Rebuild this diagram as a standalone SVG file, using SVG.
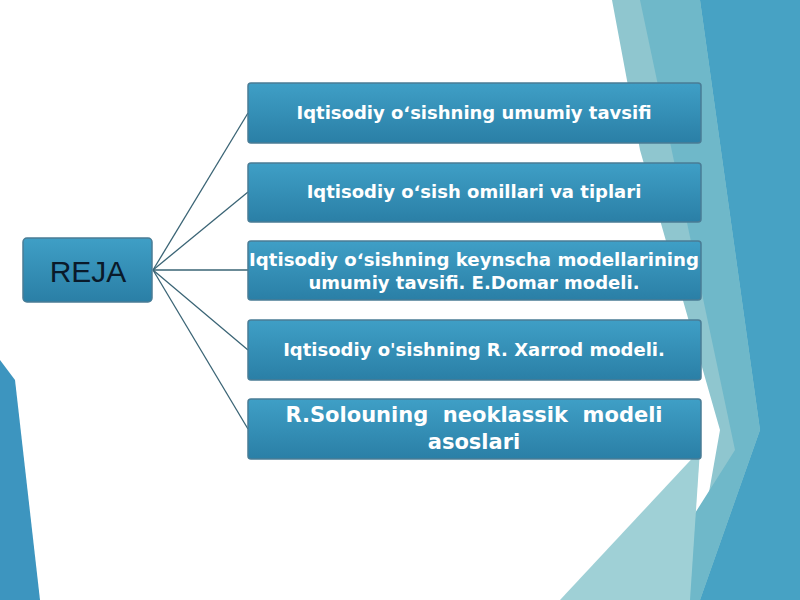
<svg xmlns="http://www.w3.org/2000/svg" width="800" height="600" viewBox="0 0 800 600">
<defs>
<linearGradient id="g" x1="0" y1="0" x2="0" y2="1"><stop offset="0" stop-color="#3f9fc6"/><stop offset="1" stop-color="#2a7fa6"/></linearGradient>
<style>.b{fill:url(#g);stroke:#4a7c95;stroke-width:1.5}.t{font-family:"DejaVu Sans",sans-serif;font-weight:bold;fill:#fff;font-size:18px;text-anchor:middle}.c{stroke:#3a6475;stroke-width:1.3;fill:none}</style>
</defs>
<rect width="800" height="600" fill="#fff"/>
<polygon points="612,0 800,0 800,600 690,600 720,430 640,150" fill="#8fc6cf"/>
<polygon points="700,0 800,0 800,600 700,600 760,430" fill="#47a2c4"/>
<polygon points="640,0 700,0 760,430 700,600 640,600 735,450" fill="#6fb8c9"/>
<polygon points="560,600 700,450 690,600" fill="#9fd0d6"/>
<polygon points="0,360 15,380 40,600 0,600" fill="#3d95bf"/>
<g id="connectors">
<line class="c" x1="153" y1="270" x2="248" y2="113"/>
<line class="c" x1="153" y1="270" x2="248" y2="192"/>
<line class="c" x1="153" y1="270" x2="248" y2="270"/>
<line class="c" x1="153" y1="270" x2="248" y2="350"/>
<line class="c" x1="153" y1="270" x2="248" y2="429"/>
</g>
<g id="reja"><rect class="b" x="23" y="238" width="129" height="64" rx="4"/><text x="88" y="282" font-family="Liberation Sans, sans-serif" font-size="30" fill="#0a1a2a" text-anchor="middle">REJA</text></g>
<g id="n1"><rect class="b" x="248" y="83" width="453" height="60" rx="3"/><text class="t" x="474" y="119">Iqtisodiy oʻsishning umumiy tavsifi</text></g>
<g id="n2"><rect class="b" x="248" y="163" width="453" height="59" rx="3"/><text class="t" x="474" y="198">Iqtisodiy oʻsish omillari va tiplari</text></g>
<g id="n3"><rect class="b" x="248" y="241" width="453" height="59" rx="3"/><text class="t" x="474" y="266" textLength="450" lengthAdjust="spacingAndGlyphs">Iqtisodiy oʻsishning keynscha modellarining</text><text class="t" x="474" y="289">umumiy tavsifi. E.Domar modeli.</text></g>
<g id="n4"><rect class="b" x="248" y="320" width="453" height="60" rx="3"/><text class="t" x="474" y="356">Iqtisodiy o'sishning R. Xarrod modeli.</text></g>
<g id="n5"><rect class="b" x="248" y="399" width="453" height="60" rx="3"/><text class="t" x="474" y="422" style="font-size:21px;white-space:pre">R.Solouning  neoklassik  modeli</text><text class="t" x="474" y="449" style="font-size:21px">asoslari</text></g>
</svg>
